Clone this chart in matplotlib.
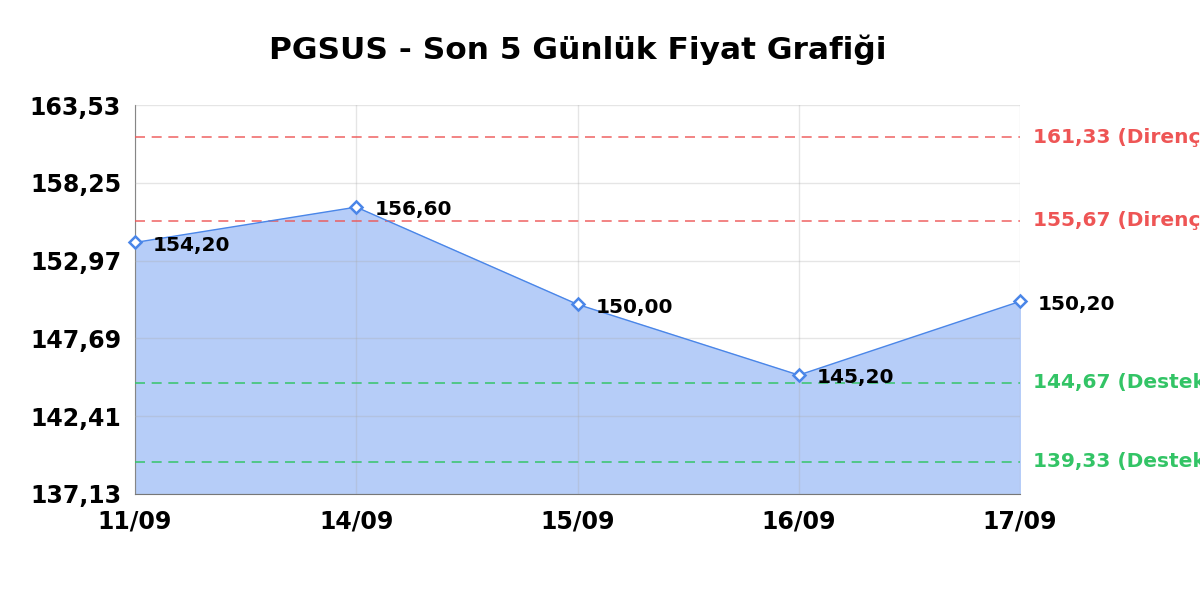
import matplotlib
matplotlib.use('Agg')
from matplotlib import pyplot as plt

dates = ['11/09', '14/09', '15/09', '16/09', '17/09']
prices = [154.20, 156.60, 150.00, 145.20, 150.20]
resistance = [161.33, 155.67]
support = [144.67, 139.33]
y_ticks = [137.13, 142.41, 147.69, 152.97, 158.25, 163.53]


def tr(v):
    return f'{v:.2f}'.replace('.', ',')


fig = plt.figure(figsize=(12, 6), dpi=100)
ax = fig.add_axes([0.1125, 0.1767, 0.7375, 0.6483])

x = list(range(len(dates)))
ax.fill_between(x, prices, y_ticks[0], color='#b6cdf8', zorder=1)
ax.plot(x, prices, color='#4a86e8', lw=1, marker='D', ms=6.5,
        mfc='white', mec='#4a86e8', mew=1.8, zorder=5, clip_on=False)

for xi, p in zip(x, prices):
    ax.annotate(tr(p), (xi, p), xytext=(13, -2), textcoords='offset points',
                fontsize=14.5, fontweight='bold', va='center', ha='left', zorder=6)

for r in resistance:
    ax.axhline(r, color='#ee5555', lw=1.2, ls=(0, (6, 4)), alpha=0.85, zorder=3)
    ax.text(1.015, r, f'{tr(r)} (Direnç)', transform=ax.get_yaxis_transform(),
            color='#ee5555', fontsize=14.5, fontweight='bold', va='center', ha='left')
for s in support:
    ax.axhline(s, color='#33c466', lw=1.2, ls=(0, (6, 4)), alpha=0.9, zorder=3)
    ax.text(1.015, s, f'{tr(s)} (Destek)', transform=ax.get_yaxis_transform(),
            color='#33c466', fontsize=14.5, fontweight='bold', va='center', ha='left')

ax.set_xlim(0, len(dates) - 1)
ax.set_ylim(y_ticks[0], y_ticks[-1])
ax.set_xticks(x)
ax.set_xticklabels(dates, fontsize=17, fontweight='bold')
ax.set_yticks(y_ticks)
ax.set_yticklabels([tr(v) for v in y_ticks], fontsize=17, fontweight='bold')
ax.tick_params(axis='y', length=0, pad=10)
ax.tick_params(axis='x', length=0, pad=11)
ax.grid(True, color='#aaaaaa', alpha=0.3, lw=1, zorder=2)
ax.set_axisbelow(False)

for side in ['top', 'right']:
    ax.spines[side].set_visible(False)
for side in ['left', 'bottom']:
    ax.spines[side].set_color('#777777')

ax.set_title('PGSUS - Son 5 Günlük Fiyat Grafiği', fontsize=22.5, fontweight='bold', pad=33)

fig.savefig('out.png', dpi=100)
